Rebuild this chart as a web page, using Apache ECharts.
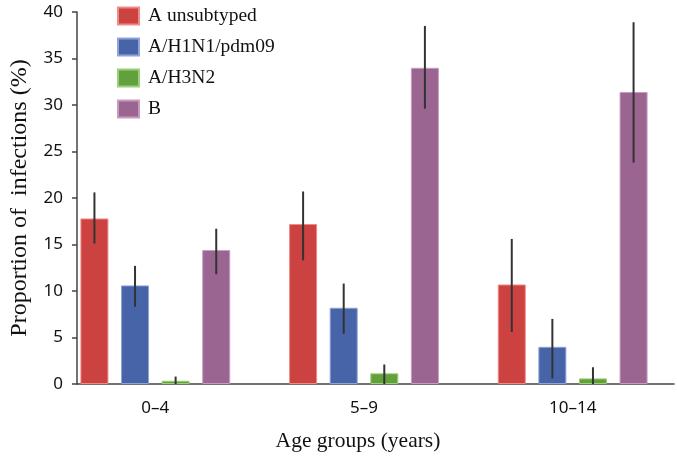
<!DOCTYPE html>
<html>
<head>
<meta charset="utf-8">
<script src="https://cdn.jsdelivr.net/npm/echarts@6/dist/echarts.min.js"></script>
<style>html,body{margin:0;padding:0;background:#fff}#c{width:677px;height:459px}</style>
</head>
<body>
<div id="c"></div>
<script>
// ---- data ----
const categories = ['0\u20134', '5\u20139', '10\u201314'];
const seriesNames = ['A unsubtyped', 'A/H1N1/pdm09', 'A/H3N2', 'B'];
const aUnsub     = [17.8, 17.2, 10.7];
const aUnsubLow  = [15.1, 13.3, 5.6];
const aUnsubHigh = [20.6, 20.7, 15.6];
const h1n1       = [10.6, 8.2, 4.0];
const h1n1Low    = [8.3, 5.4, 0.6];
const h1n1High   = [12.7, 10.8, 7.0];
const h3n2       = [0.35, 1.15, 0.6];
const h3n2Low    = [0, 0, 0];
const h3n2High   = [0.8, 2.1, 1.8];
const bType      = [14.4, 34.0, 31.4];
const bLow       = [11.8, 29.6, 23.8];
const bHigh      = [16.7, 38.5, 38.9];
const yTicks     = [0, 5, 10, 15, 20, 25, 30, 35, 40];

// ---- style ----
const colors  = ['#cc4240', '#4864a9', '#62a03b', '#9a6590'];
const borders = ['#ee8a88', '#8fa3d6', '#9ccf7c', '#c79bbd'];
const BAR_W = 28, BAR_GAP = 12.6;

const values = [aUnsub, h1n1, h3n2, bType];
const lows   = [aUnsubLow, h1n1Low, h3n2Low, bLow];
const highs  = [aUnsubHigh, h1n1High, h3n2High, bHigh];

const barSeries = values.map((v, k) => ({
  type: 'bar', name: seriesNames[k], xAxisIndex: 0, yAxisIndex: 0,
  data: v, barWidth: BAR_W, barGap: (BAR_GAP / BAR_W * 100) + '%',
  itemStyle: { color: colors[k], borderColor: borders[k], borderWidth: 1 },
  silent: true
}));

const errSeries = values.map((v, k) => ({
  type: 'custom', name: seriesNames[k] + ' error', xAxisIndex: 0, yAxisIndex: 0,
  data: lows[k].map((l, i) => [i, l, highs[k][i]]),
  encode: { x: 0, y: [1, 2] },
  z: 10, silent: true,
  renderItem: function (params, api) {
    const p1 = api.coord([api.value(0), api.value(1)]);
    const p2 = api.coord([api.value(0), api.value(2)]);
    const off = (k - 1.5) * (BAR_W + BAR_GAP);
    return { type: 'line',
      shape: { x1: p1[0] + off, y1: p1[1], x2: p1[0] + off, y2: p2[1] },
      style: { stroke: '#333', lineWidth: 2 } };
  }
}));

const chart = echarts.init(document.getElementById('c'), null, { renderer: 'canvas' });
chart.setOption({
  backgroundColor: '#fff',
  animation: false,
  color: colors,
  legend: {
    data: seriesNames, orient: 'vertical', left: 112, top: 1,
    itemWidth: 21, itemHeight: 17, itemGap: 11, icon: 'rect',
    selectedMode: false,
    textStyle: { fontFamily: 'Liberation Serif', fontSize: 19.5, color: '#111', lineHeight: 17, padding: [0, 0, 0, 4] }
  },
  grid: [
    { left: 51, width: 630, top: 12, bottom: 75 },
    { left: 63, right: 3, top: 12, bottom: 75 }
  ],
  xAxis: [
    { type: 'category', gridIndex: 0, data: categories,
      axisLine: { show: false }, axisTick: { show: false },
      axisLabel: { fontFamily: 'Noto Sans', fontSize: 17, color: '#111', margin: 16 },
      name: 'Age groups (years)', nameLocation: 'middle', nameGap: 46,
      nameTextStyle: { fontFamily: 'Liberation Serif', fontSize: 21.5, color: '#111', padding: [0, 12, 0, 0] } },
    { type: 'value', gridIndex: 1, min: 0, max: 1,
      axisLine: { show: true, lineStyle: { color: '#444', width: 1.5 } },
      axisTick: { show: false }, axisLabel: { show: false }, splitLine: { show: false } }
  ],
  yAxis: [
    { type: 'value', gridIndex: 0, min: yTicks[0], max: yTicks[yTicks.length - 1], show: false, splitLine: { show: false } },
    { type: 'value', gridIndex: 1, min: yTicks[0], max: yTicks[yTicks.length - 1], interval: yTicks[1] - yTicks[0],
      axisLine: { show: true, lineStyle: { color: '#444', width: 1.5 } },
      axisTick: { show: true, length: 5, lineStyle: { color: '#444', width: 1.5 } },
      axisLabel: { fontFamily: 'Noto Sans', fontSize: 17, color: '#111', margin: 14 },
      splitLine: { show: false },
      name: 'Proportion of  infections (%)', nameLocation: 'middle', nameGap: 45, nameRotate: 90,
      nameTextStyle: { fontFamily: 'Liberation Serif', fontSize: 24, color: '#111' } }
  ],
  series: barSeries.concat(errSeries)
});
</script>
</body>
</html>
